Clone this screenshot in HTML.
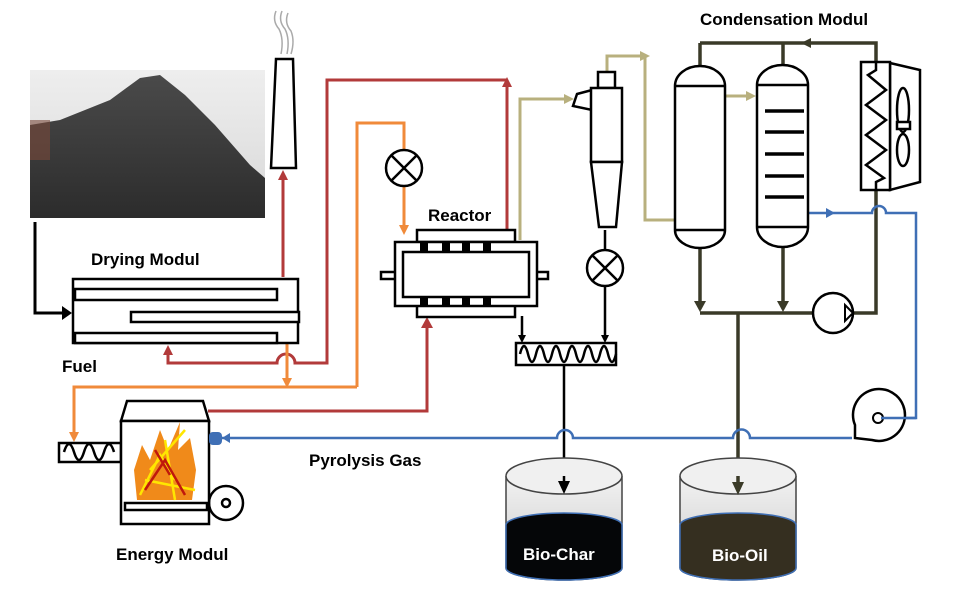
<!DOCTYPE html>
<html><head><meta charset="utf-8"><style>
html,body{margin:0;padding:0;background:#fff;}
svg{display:block;}
text{font-family:"Liberation Sans",sans-serif;font-weight:bold;font-size:17px;}
</style></head><body>
<svg width="964" height="595" viewBox="0 0 964 595" xmlns="http://www.w3.org/2000/svg">
<defs>
<linearGradient id="sky" x1="0" y1="0" x2="0" y2="1"><stop offset="0" stop-color="#eeeeee"/><stop offset="1" stop-color="#d8d8d8"/></linearGradient>
<linearGradient id="pile" x1="0" y1="0" x2="0" y2="1"><stop offset="0" stop-color="#4a4a4a"/><stop offset="1" stop-color="#2c2c2c"/></linearGradient>
<linearGradient id="tank" x1="0" y1="0" x2="0" y2="1"><stop offset="0" stop-color="#f2f2f2"/><stop offset="1" stop-color="#c8c8c8"/></linearGradient>
</defs>
<rect x="30" y="70" width="235" height="148" fill="url(#sky)"/>
<polygon points="30,125 60,120 110,100 140,78 160,75 185,95 215,125 250,165 265,178 265,218 30,218" fill="url(#pile)"/>
<rect x="30" y="120" width="20" height="40" fill="#7a4a3a" opacity="0.6"/>
<path d="M276,11 q-4,10 3,18 q5,10 2,25 M282,11 q-4,10 3,18 q5,10 2,25 M288,13 q-4,10 3,18 q4,10 0,23" stroke="#aaa" stroke-width="1.5" fill="none"/>
<polygon points="276,59 293,59 296,168 271,168" fill="#fff" stroke="#000" stroke-width="2.5"/>
<g fill="none" stroke-width="3">
<path d="M283,277 V175" stroke="#b23a3a"/>
<path d="M507,230 V84 M507,80 H327 V363 H295 A9,9 0 0 0 277,363 H168 V350" stroke="#b23a3a"/>
<path d="M208,411 H427 V322" stroke="#b23a3a"/>
<path d="M287,343 V383" stroke="#f08a3a"/>
<path d="M357,387 H74 V437 M357,387 V123 H404 V150 M404,186 V230" stroke="#f08a3a"/>
<path d="M520,240 V99 H570 M607,72 V56 H645 V220 H675 M725,96 H752" stroke="#b8b07e"/>
<path d="M700,43 H876 V62 M700,43 V93 M783,43 V93 M700,248 V308 M783,245 V308 M700,313 H812 M853,313 H876 V190 M738,313 V488" stroke="#3a3a28" stroke-width="3.5"/>
<path d="M35,222 V313 H66" stroke="#000"/>
<path d="M522,316 V340 M605,286 V340 M605,250 V230 M564,365 V486" stroke="#000" stroke-width="2.5"/>
<path d="M222,438 H557 A8,8 0 0 1 573,438 H733 A8,8 0 0 1 750,438 H852" stroke="#3f6fb5" stroke-width="2.5"/>
<path d="M809,213 H872 A7,7 0 0 1 886,213 H916 V418 H881" stroke="#3f6fb5" stroke-width="2.5"/>
</g>
<g>
<polygon points="283,170 278,180 288,180" fill="#b23a3a"/>
<polygon points="507,77 502,87 512,87" fill="#b23a3a"/>
<polygon points="168,345 163,355 173,355" fill="#b23a3a"/>
<polygon points="427,317 421,328 433,328" fill="#b23a3a"/>
<polygon points="287,388 282,378 292,378" fill="#f08a3a"/>
<polygon points="74,442 69,432 79,432" fill="#f08a3a"/>
<polygon points="404,235 399,225 409,225" fill="#f08a3a"/>
<polygon points="574,99 564,94 564,104" fill="#b8b07e"/>
<polygon points="650,56 640,51 640,61" fill="#b8b07e"/>
<polygon points="756,96 746,91 746,101" fill="#b8b07e"/>
<polygon points="801,43 811,38 811,48" fill="#3a3a28"/>
<polygon points="700,90 705,95 700,100 695,95" fill="#3a3a28"/>
<polygon points="783,90 788,95 783,100 778,95" fill="#3a3a28"/>
<polygon points="700,312 694,301 706,301" fill="#3a3a28"/>
<polygon points="783,312 777,301 789,301" fill="#3a3a28"/>
<polygon points="72,313 62,306 62,320" fill="#000"/>
<polygon points="522,343 518,335 526,335" fill="#000"/>
<polygon points="605,343 601,335 609,335" fill="#000"/>
<polygon points="835,213 826,208 826,218" fill="#3f6fb5"/>
<polygon points="222,438 230,433 230,443" fill="#3f6fb5"/>
</g>
<g fill="#fff" stroke="#000" stroke-width="2.5">
<rect x="73" y="279" width="225" height="64"/>
<rect x="75" y="289" width="202" height="11"/>
<rect x="131" y="312" width="168" height="10"/>
<rect x="75" y="333" width="202" height="10"/>
</g>
<g fill="#fff" stroke="#000" stroke-width="2.5">
<circle cx="404" cy="168" r="18"/><path d="M391,155 L417,181 M417,155 L391,181"/>
<circle cx="605" cy="268" r="18"/><path d="M592,255 L618,281 M618,255 L592,281"/>
</g>
<g fill="#fff" stroke="#000" stroke-width="2.5">
<rect x="381" y="272" width="16" height="7"/>
<rect x="529" y="272" width="19" height="7"/>
<rect x="417" y="230" width="98" height="12"/>
<rect x="417" y="305" width="98" height="12"/>
<rect x="395" y="242" width="142" height="64"/>
<rect x="403" y="252" width="126" height="45"/>
</g>
<g fill="#000">
<rect x="420" y="243" width="8" height="8"/><rect x="442" y="243" width="8" height="8"/><rect x="462" y="243" width="8" height="8"/><rect x="483" y="243" width="8" height="8"/>
<rect x="420" y="297" width="8" height="8"/><rect x="442" y="297" width="8" height="8"/><rect x="462" y="297" width="8" height="8"/><rect x="483" y="297" width="8" height="8"/>
</g>
<g fill="#fff" stroke="#000" stroke-width="2.5">
<rect x="598" y="72" width="17" height="16"/>
<polygon points="577,94 592,90 592,110 573,106"/>
<rect x="591" y="88" width="31" height="74"/>
<polygon points="591,162 622,162 616,227 599,227"/>
</g>
<rect x="516" y="343" width="100" height="22" fill="#fff" stroke="#000" stroke-width="2.5"/>
<path d="M520,354 q4,-16 8,0 t8,0 t8,0 t8,0 t8,0 t8,0 t8,0 t8,0 t8,0 t8,0 t8,0 t8,0" fill="none" stroke="#000" stroke-width="2.5"/>
<g fill="#fff" stroke="#000" stroke-width="2.5">
<path d="M675,86 A25,20 0 0 1 725,86 V230 A25,18 0 0 1 675,230 Z"/>
<line x1="675" y1="86" x2="725" y2="86"/><line x1="675" y1="230" x2="725" y2="230"/>
<path d="M757,85 A25.5,20 0 0 1 808,85 V227 A25.5,20 0 0 1 757,227 Z"/>
<line x1="757" y1="85" x2="808" y2="85"/><line x1="757" y1="227" x2="808" y2="227"/>
</g>
<g stroke="#000" stroke-width="3.5">
<line x1="765" y1="111" x2="804" y2="111"/><line x1="765" y1="132" x2="804" y2="132"/><line x1="765" y1="154" x2="804" y2="154"/><line x1="765" y1="176" x2="804" y2="176"/><line x1="765" y1="197" x2="804" y2="197"/>
</g>
<g fill="#fff" stroke="#000" stroke-width="2.5">
<polygon points="890,63 920,70 920,182 890,190"/>
<rect x="861" y="62" width="29" height="128"/>
<path d="M876,62 V70 L868,75 L886,90 L866,105 L886,120 L866,135 L886,150 L866,165 L884,178 L876,182 V190" fill="none"/>
<ellipse cx="903" cy="110" rx="6" ry="22"/><ellipse cx="903" cy="150" rx="6" ry="16"/><rect x="897" y="122" width="13" height="7"/>
</g>
<circle cx="833" cy="313" r="20" fill="#fff" stroke="#000" stroke-width="2.5"/>
<polygon points="845,305 853,313 845,321" fill="#fff" stroke="#000" stroke-width="2"/>
<path d="M855,438 V425 A26,26 0 1 1 872,440 Z" fill="#fff" stroke="#000" stroke-width="2.5"/>
<circle cx="878" cy="418" r="5" fill="#fff" stroke="#000" stroke-width="2"/>
<line x1="881" y1="418" x2="916" y2="418" stroke="#3f6fb5" stroke-width="2.5"/>
<g fill="#fff" stroke="#000" stroke-width="2.5">
<circle cx="226" cy="503" r="17"/><circle cx="226" cy="503" r="4"/>
<rect x="59" y="443" width="62" height="19"/>
<polygon points="127,401 203,401 209,421 121,421"/>
<rect x="121" y="421" width="88" height="103"/>
<rect x="125" y="503" width="82" height="7"/>
</g>
<path d="M64,452 q5,-16 10,0 t10,0 t10,0 t10,0 t10,0" fill="none" stroke="#000" stroke-width="2.5"/>
<rect x="209" y="432" width="13" height="13" rx="4" fill="#3f6fb5"/>
<polygon points="137,500 134,470 142,445 150,460 160,430 168,450 180,422 178,450 190,438 196,470 192,500" fill="#f08a1a"/>
<path d="M140,495 L160,455 L175,480 M150,470 L185,430 M145,480 L195,490 M165,440 L175,500" stroke="#ffe600" stroke-width="2.5" fill="none"/>
<path d="M145,490 L165,460 L185,495 M155,450 L170,475" stroke="#c0180c" stroke-width="2.5" fill="none"/>
<g>
<path d="M506,476 V568 A58,12 0 0 0 622,568 V476" fill="url(#tank)" stroke="#444" stroke-width="1.5"/>
<path d="M506,525 A58,12 0 0 1 622,525 V568 A58,12 0 0 1 506,568 Z" fill="#050608" stroke="#3f6fb5" stroke-width="1.5"/>
<ellipse cx="564" cy="476" rx="58" ry="18" fill="#f0f0f0" stroke="#444" stroke-width="1.5"/>
<path d="M680,476 V568 A58,12 0 0 0 796,568 V476" fill="url(#tank)" stroke="#444" stroke-width="1.5"/>
<path d="M680,525 A58,12 0 0 1 796,525 V568 A58,12 0 0 1 680,568 Z" fill="#352f20" stroke="#3f6fb5" stroke-width="1.5"/>
<ellipse cx="738" cy="476" rx="58" ry="18" fill="#f0f0f0" stroke="#444" stroke-width="1.5"/>
</g>
<line x1="564" y1="476" x2="564" y2="486" stroke="#000" stroke-width="2.5"/>
<polygon points="564,494 558,481 570,481" fill="#000"/>
<line x1="738" y1="476" x2="738" y2="486" stroke="#3a3a28" stroke-width="3.5"/>
<polygon points="738,495 732,482 744,482" fill="#3a3a28"/>
<text x="91" y="265">Drying Modul</text>
<text x="62" y="372">Fuel</text>
<text x="116" y="560">Energy Modul</text>
<text x="309" y="466">Pyrolysis Gas</text>
<text x="428" y="221">Reactor</text>
<text x="700" y="25">Condensation Modul</text>
<text x="523" y="560" fill="#fff">Bio-Char</text>
<text x="712" y="561" fill="#fff">Bio-Oil</text>
</svg>
</body></html>
